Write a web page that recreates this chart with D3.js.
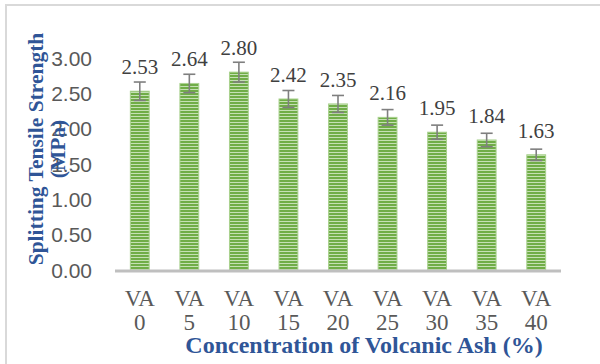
<!DOCTYPE html>
<html><head><meta charset="utf-8">
<script src="https://cdn.jsdelivr.net/npm/d3@7/dist/d3.min.js"></script>
<style>html,body{margin:0;padding:0;background:#fff;}svg{display:block;}</style>
</head><body>
<svg id="c" width="600" height="364"></svg>
<script>
const categories = ["VA 0","VA 5","VA 10","VA 15","VA 20","VA 25","VA 30","VA 35","VA 40"];
const values = [2.53,2.64,2.80,2.42,2.35,2.16,1.95,1.84,1.63];
const errors = [0.13,0.13,0.14,0.12,0.12,0.11,0.10,0.095,0.08];
const yTicks = [0,0.5,1,1.5,2,2.5,3];

const svg = d3.select("#c");
const W=600,H=364;
const pLeft=115,pRight=561,pTop=58,pBottom=270;

svg.append("rect").attr("x",6).attr("y",5).attr("width",W).attr("height",H)
  .attr("fill","#fff").attr("stroke","#D9D9D9").attr("stroke-width",2);

const defs=svg.append("defs");
const pat=defs.append("pattern").attr("id","stripe").attr("patternUnits","userSpaceOnUse")
  .attr("width",4).attr("height",3);
pat.append("rect").attr("width",4).attr("height",3).attr("fill","#70AD47");
pat.append("rect").attr("y",2).attr("width",4).attr("height",1).attr("fill","#C5E0B4");

const x=d3.scaleBand().domain(categories).range([pLeft,pRight]).paddingInner(0.62).paddingOuter(0.31);
const y=d3.scaleLinear().domain([0,3]).range([pBottom,pTop]);

svg.append("g").selectAll("text").data(yTicks).join("text")
  .attr("x",92).attr("y",d=>y(d)).attr("dy","0.36em").attr("text-anchor","end")
  .attr("font-family","Liberation Sans, Arial, sans-serif").attr("font-size",21).attr("fill","#595959")
  .text(d=>d3.format(".2f")(d));

svg.append("g").selectAll("rect").data(values).join("rect")
  .attr("x",(d,i)=>x(categories[i])).attr("width",x.bandwidth())
  .attr("y",d=>y(d)).attr("height",d=>y(0)-y(d))
  .attr("fill","url(#stripe)").attr("stroke","#A9D18E").attr("stroke-width",1);

svg.append("line").attr("x1",pLeft).attr("x2",pRight).attr("y1",y(0)+1).attr("y2",y(0)+1)
  .attr("stroke","#BFBFBF").attr("stroke-width",3);

const eg=svg.append("g").attr("stroke","#7F7F7F").attr("stroke-width",1.6);
values.forEach((v,i)=>{
  const cx=x(categories[i])+x.bandwidth()/2;
  const y1=y(v+errors[i]), y2=y(v-errors[i]);
  eg.append("line").attr("x1",cx).attr("x2",cx).attr("y1",y1).attr("y2",y2);
  eg.append("line").attr("x1",cx-6).attr("x2",cx+6).attr("y1",y1).attr("y2",y1);
  eg.append("line").attr("x1",cx-6).attr("x2",cx+6).attr("y1",y2).attr("y2",y2);
});

svg.append("g").selectAll("text").data(values).join("text")
  .attr("x",(d,i)=>x(categories[i])+x.bandwidth()/2).attr("y",d=>y(d)-17)
  .attr("text-anchor","middle").attr("font-family","Liberation Serif, Times New Roman, serif")
  .attr("font-size",21).attr("fill","#404040").text(d=>d3.format(".2f")(d));

const cg=svg.append("g");
categories.forEach((c,i)=>{
  const cx=x(c)+x.bandwidth()/2;
  const parts=c.split(" ");
  const t=cg.append("text").attr("text-anchor","middle")
    .attr("font-family","Liberation Serif, Times New Roman, serif").attr("font-size",23).attr("fill","#595959");
  t.append("tspan").attr("x",cx).attr("y",306).text(parts[0]);
  t.append("tspan").attr("x",cx).attr("y",330).text(parts[1]);
});

svg.append("text").attr("x",364).attr("y",353).attr("text-anchor","middle")
  .attr("font-family","Liberation Serif, Times New Roman, serif").attr("font-weight","bold")
  .attr("font-size",24).attr("fill","#2F5597").text("Concentration of Volcanic Ash (%)");

const yt=svg.append("text").attr("transform","translate(43,149) rotate(-90)").attr("text-anchor","middle")
  .attr("font-family","Liberation Serif, Times New Roman, serif").attr("font-weight","bold")
  .attr("font-size",21.5).attr("fill","#2F5597");
yt.append("tspan").attr("x",0).attr("y",0).text("Splitting Tensile Strength");
yt.append("tspan").attr("x",0).attr("y",22).text("(MPa)");
</script>
</body></html>
